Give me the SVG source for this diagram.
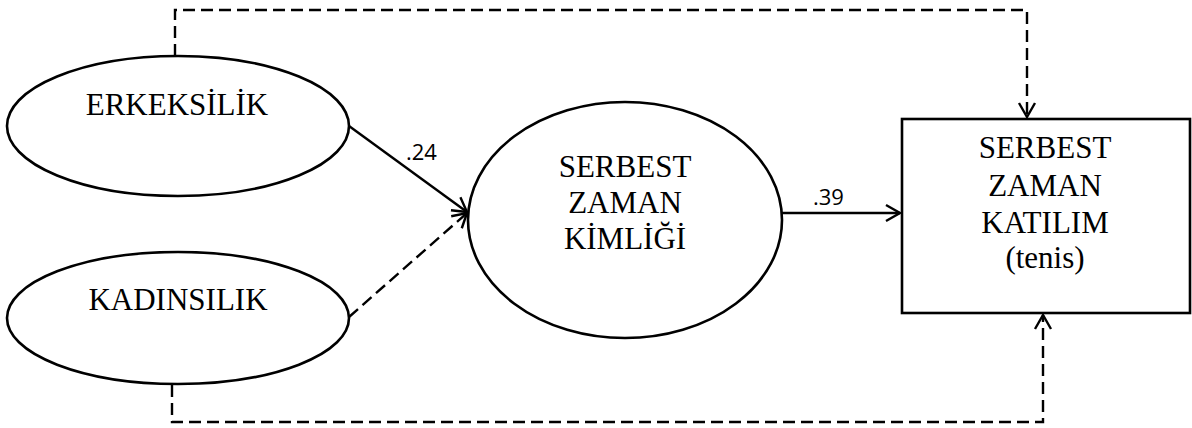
<svg xmlns="http://www.w3.org/2000/svg" width="1192" height="428" viewBox="0 0 1192 428">
<style>
.shape{fill:#fff;stroke:#000;stroke-width:2.6}
.lbl{font-family:"Liberation Serif","Times New Roman",serif;font-size:31px;fill:#000;text-anchor:middle}
.num{font-family:"Open Sans","Liberation Sans",sans-serif;font-size:22px;fill:#000}
.solid{fill:none;stroke:#000;stroke-width:2.4}
.dash{fill:none;stroke:#000;stroke-width:2.4;stroke-dasharray:12 6}
</style>
<defs>
<marker id="arr" viewBox="0 0 20 20" refX="18" refY="10" markerWidth="20" markerHeight="20" markerUnits="userSpaceOnUse" orient="auto">
<polyline points="4,2 18,10 4,18" fill="none" stroke="#000" stroke-width="2.4"/>
</marker>
</defs>
<g id="connectors">
<path class="dash" d="M175,56 V10 H1027 V117" marker-end="url(#arr)"/>
<path class="dash" d="M172,385 V422 H1043 V315" marker-end="url(#arr)"/>
<path class="solid" d="M349,126 L467,212" marker-end="url(#arr)"/>
<path class="dash" d="M349,317 L467,213" marker-end="url(#arr)"/>
<path class="solid" d="M782,213 L900,213" marker-end="url(#arr)"/>
<text class="num" x="406" y="160">.24</text>
<text class="num" x="813" y="205">.39</text>
</g>
<g id="erkeksilik">
<ellipse class="shape" cx="178" cy="126" rx="171" ry="70"/>
<text class="lbl" x="177" y="115">ERKEKSİLİK</text>
</g>
<g id="kadinsilik">
<ellipse class="shape" cx="178" cy="318" rx="171" ry="66"/>
<text class="lbl" x="178" y="310">KADINSILIK</text>
</g>
<g id="kimlik">
<ellipse class="shape" cx="625" cy="220" rx="157" ry="118"/>
<text class="lbl" x="625" y="177">SERBEST</text>
<text class="lbl" x="625" y="213">ZAMAN</text>
<text class="lbl" x="625" y="249">KİMLİĞİ</text>
</g>
<g id="katilim">
<rect class="shape" x="902" y="119" width="288" height="194"/>
<text class="lbl" x="1045" y="158">SERBEST</text>
<text class="lbl" x="1045" y="196">ZAMAN</text>
<text class="lbl" x="1045" y="233">KATILIM</text>
<text class="lbl" x="1045" y="268">(tenis)</text>
</g>
</svg>
